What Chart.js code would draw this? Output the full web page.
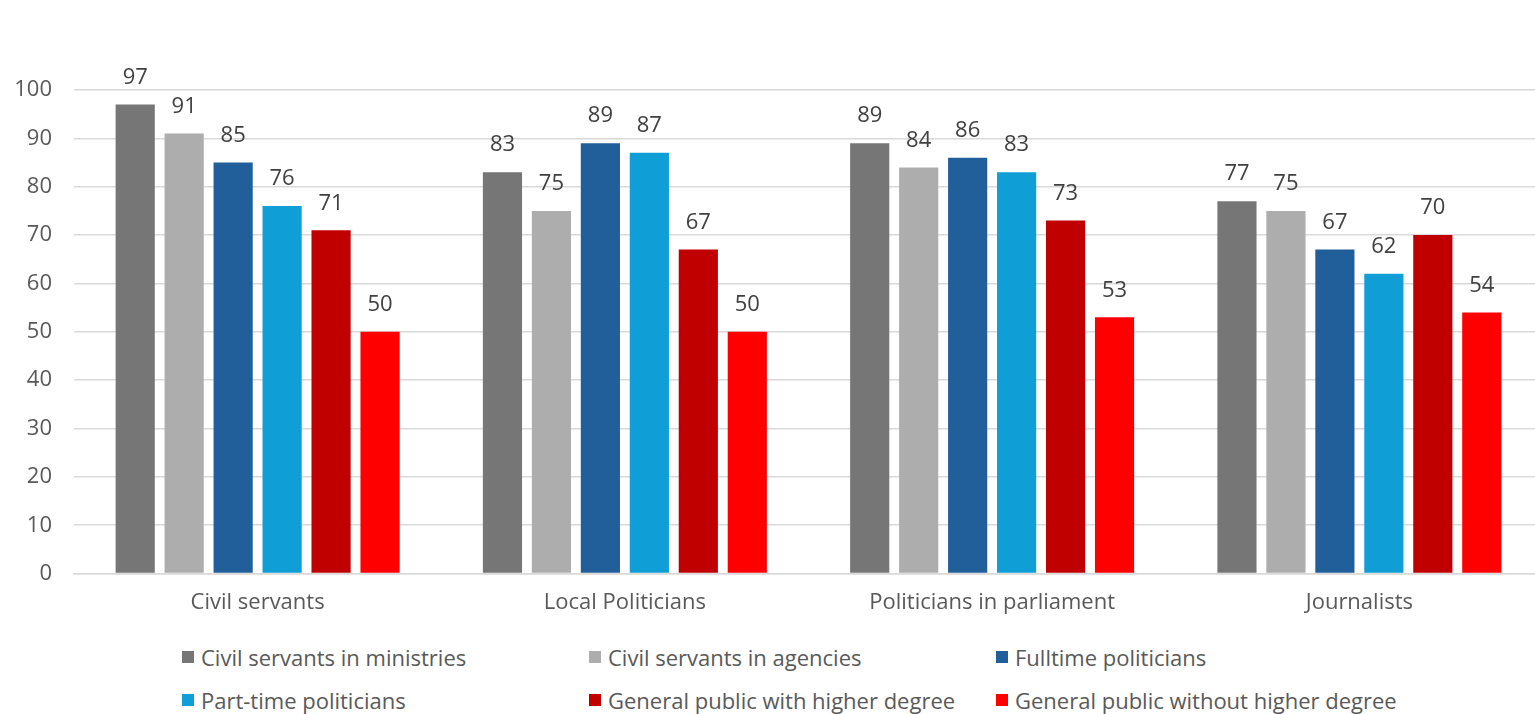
<!DOCTYPE html>
<html>
<head>
<meta charset="utf-8">
<script src="https://cdn.jsdelivr.net/npm/chart.js@4"></script>
<style>
  body { margin: 0; background: #fff; font-family: "Open Sans", sans-serif; }
  #wrap { position: relative; width: 1535px; height: 714px; overflow: hidden; }
  #chartBox { position: absolute; left: 0; top: 0; width: 1543px; height: 632px; }
  #legend {
    position: absolute; left: 182px; top: 641px;
    display: grid; grid-template-columns: 407px 407px 407px; row-gap: 11px;
    font-size: 22px; color: #595959;
  }
  .item { display: flex; align-items: center; height: 32px; }
  .swatch { width: 12px; height: 12px; margin-right: 7px; }
</style>
</head>
<body>
<div id="wrap">
  <div id="chartBox"><canvas id="barChart"></canvas></div>
  <div id="legend"></div>
</div>
<script>
// Groups along the x axis
const categories = ['Civil servants', 'Local Politicians', 'Politicians in parliament', 'Journalists'];

// One array per respondent group, in category order
const ministries = [97, 83, 89, 77];
const agencies = [91, 75, 84, 75];
const fulltimePoliticians = [85, 89, 86, 67];
const parttimePoliticians = [76, 87, 83, 62];
const publicWithDegree = [71, 67, 73, 70];
const publicWithoutDegree = [50, 50, 53, 54];

const seriesNames = [
    'Civil servants in ministries',
    'Civil servants in agencies',
    'Fulltime politicians',
    'Part-time politicians',
    'General public with higher degree',
    'General public without higher degree',
];
const seriesValues = [ministries, agencies, fulltimePoliticians, parttimePoliticians, publicWithDegree, publicWithoutDegree];
const seriesColors = ['#767676', '#ADADAD', '#215F9A', '#0F9ED5', '#C00000', '#FF0000'];

const yTicks = { min: 0, max: 100, step: 10 };

const FONT = '"Open Sans", sans-serif';

// Draws the value above each bar
const valueLabels = {
    id: 'valueLabels',
    afterDatasetsDraw(chart) {
        const ctx = chart.ctx;
        ctx.save();
        ctx.font = '22px ' + FONT;
        ctx.fillStyle = '#404040';
        ctx.textAlign = 'center';
        ctx.textBaseline = 'middle';
        chart.data.datasets.forEach((ds, i) => {
            chart.getDatasetMeta(i).data.forEach((bar, j) => {
                ctx.fillText(ds.data[j], bar.x, bar.y - 27);
            });
        });
        ctx.restore();
    },
};

const chart = new Chart(document.getElementById('barChart'), {
    type: 'bar',
    data: {
        labels: categories,
        datasets: seriesNames.map((name, i) => ({
            label: name,
            data: seriesValues[i],
            backgroundColor: seriesColors[i],
            categoryPercentage: 0.8,
            barPercentage: 0.8,
        })),
    },
    options: {
        responsive: true,
        maintainAspectRatio: false,
        animation: false,
        layout: { padding: { top: 90, right: 0, left: 14, bottom: 0 } },
        plugins: {
            legend: { display: false },
            tooltip: { enabled: false },
        },
        scales: {
            x: {
                grid: { display: false, drawTicks: false },
                border: { color: '#D9D9D9', width: 1.5 },
                ticks: { color: '#595959', font: { family: FONT, size: 22 }, padding: 16 },
            },
            y: {
                min: yTicks.min,
                max: yTicks.max,
                grid: { color: '#D9D9D9', lineWidth: 1.5, drawTicks: false },
                border: { display: false },
                ticks: { stepSize: yTicks.step, color: '#595959', font: { family: FONT, size: 22 }, padding: 22 },
                afterFit(scale) { scale.width = 60; },
            },
        },
    },
    plugins: [valueLabels],
});

// Legend in a three-column grid
const legend = document.getElementById('legend');
chart.data.datasets.forEach(ds => {
    const item = document.createElement('div');
    item.className = 'item';
    const sw = document.createElement('span');
    sw.className = 'swatch';
    sw.style.background = ds.backgroundColor;
    item.appendChild(sw);
    item.appendChild(document.createTextNode(ds.label));
    legend.appendChild(item);
});
</script>
</body>
</html>
